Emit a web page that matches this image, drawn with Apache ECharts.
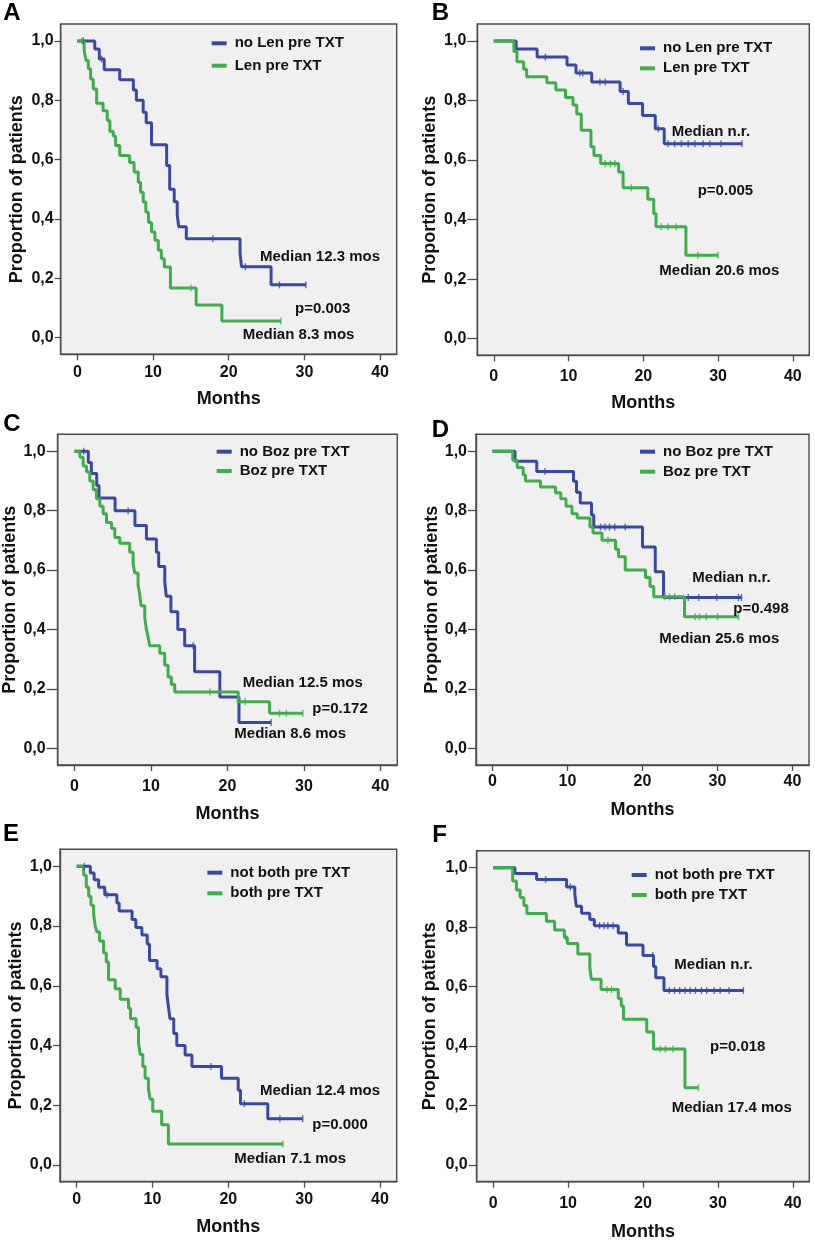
<!DOCTYPE html>
<html>
<head>
<meta charset="utf-8">
<script src="https://cdn.jsdelivr.net/npm/echarts@6/dist/echarts.min.js"></script>
<style>
html,body{margin:0;padding:0;background:#ffffff;}
#chart{width:815px;height:1242px;}
</style>
</head>
<body>
<div id="chart"></div>
<script>
// ---------------- DATA ----------------
const xTicks = [0, 10, 20, 30, 40];
const yTicks = [0, 0.2, 0.4, 0.6, 0.8, 1.0];
const panelLetters = ['A', 'B', 'C', 'D', 'E', 'F'];
const xAxisTitle = 'Months';
const yAxisTitle = 'Proportion of patients';

const groupNames = [
  ['no Len pre TXT', 'Len pre TXT'],
  ['no Len pre TXT', 'Len pre TXT'],
  ['no Boz pre TXT', 'Boz pre TXT'],
  ['no Boz pre TXT', 'Boz pre TXT'],
  ['not both pre TXT', 'both pre TXT'],
  ['not both pre TXT', 'both pre TXT']
];

const annotationTexts = [
  ['Median 12.3 mos', 'p=0.003', 'Median 8.3 mos'],
  ['Median n.r.', 'p=0.005', 'Median 20.6 mos'],
  ['Median 12.5 mos', 'p=0.172', 'Median 8.6 mos'],
  ['Median n.r.', 'p=0.498', 'Median 25.6 mos'],
  ['Median 12.4 mos', 'p=0.000', 'Median 7.1 mos'],
  ['Median n.r.', 'p=0.018', 'Median 17.4 mos']
];

// Panel A
const aBlue = [[0,1],[2.3,0.973],[2.9,0.939],[3.55,0.903],[5.6,0.869],[7.4,0.835],[7.8,0.80],[8.7,0.76],[9.1,0.724],[9.8,0.65],[11.8,0.58],[12.2,0.50],[12.8,0.458],[13.2,0.413],[13.4,0.374],[14.4,0.333],[21.5,0.285],[21.7,0.239],[25.6,0.178],[30.2,0.178]];
const aGreen = [[0,1],[0.9,0.967],[1.15,0.934],[1.45,0.906],[1.75,0.872],[2.1,0.838],[2.55,0.79],[3.4,0.765],[3.95,0.732],[4.3,0.695],[4.75,0.68],[5.05,0.648],[5.6,0.614],[6.9,0.59],[7.5,0.558],[8.05,0.524],[8.35,0.49],[8.7,0.457],[9.05,0.423],[9.4,0.388],[9.8,0.356],[10.25,0.328],[10.7,0.295],[11.1,0.266],[11.5,0.238],[12.3,0.167],[15.7,0.11],[19.1,0.056],[26.9,0.056]];
const aBlueCens = [[0.8,1],[3.2,0.939],[17.9,0.333],[22.2,0.239],[26.7,0.178],[30.2,0.178]];
const aGreenCens = [[0.6,1],[15.0,0.167],[26.9,0.056]];

// Panel B
const bBlue = [[0,1],[3.0,0.973],[5.8,0.946],[9.8,0.919],[11.0,0.892],[13.1,0.862],[16.9,0.83],[18.0,0.79],[19.9,0.75],[21.6,0.705],[22.8,0.655],[33.2,0.655]];
const bGreen = [[0,1],[2.7,0.965],[3.1,0.93],[4.0,0.905],[4.4,0.88],[7.1,0.86],[8.3,0.835],[9.6,0.81],[10.6,0.785],[11.1,0.755],[11.7,0.70],[13.0,0.645],[13.4,0.615],[14.3,0.588],[16.7,0.56],[17.3,0.507],[20.6,0.468],[21.4,0.42],[21.7,0.376],[25.7,0.28],[30.0,0.28]];
const bBlueCens = [[6.9,0.946],[11.5,0.892],[11.9,0.892],[14.2,0.862],[14.9,0.862],[17.3,0.83],[22.0,0.705],[23.3,0.655],[24.2,0.655],[25.1,0.655],[26.0,0.655],[26.9,0.655],[28.0,0.655],[28.9,0.655],[30.4,0.655],[33.2,0.655]];
const bGreenCens = [[14.9,0.588],[15.6,0.588],[16.2,0.588],[18.4,0.507],[22.4,0.376],[23.3,0.376],[24.4,0.376],[27.3,0.28],[30.0,0.28]];

// Panel C
const cBlue = [[0,1],[1.8,0.962],[2.2,0.925],[2.9,0.885],[3.2,0.843],[5.3,0.80],[7.9,0.75],[9.4,0.705],[10.7,0.66],[11.0,0.612],[11.8,0.56],[12.0,0.512],[12.6,0.46],[13.5,0.40],[14.4,0.345],[15.7,0.258],[19.0,0.173],[21.5,0.087],[25.7,0.087]];
const cGreen = [[0,1],[0.7,0.98],[1.13,0.95],[1.57,0.93],[2.0,0.90],[2.44,0.87],[2.87,0.84],[3.31,0.815],[3.74,0.79],[4.18,0.76],[4.83,0.74],[5.27,0.71],[5.92,0.69],[7.22,0.66],[7.66,0.62],[7.88,0.59],[8.31,0.55],[8.5,0.52],[8.7,0.48],[9.18,0.44],[9.4,0.40],[9.62,0.375],[9.83,0.345],[11.14,0.32],[11.79,0.28],[12.23,0.24],[12.66,0.215],[13.1,0.19],[21.4,0.157],[25.5,0.118],[29.85,0.118]];
const cBlueCens = [[1.2,1],[7.0,0.80],[15.5,0.345],[25.7,0.087]];
const cGreenCens = [[17.7,0.19],[22.3,0.157],[26.8,0.118],[27.7,0.118],[29.85,0.118]];

// Panel D
const dBlue = [[0,1],[3.0,0.966],[5.9,0.932],[10.8,0.899],[11.2,0.862],[11.7,0.826],[13.2,0.785],[13.5,0.745],[20.0,0.678],[21.7,0.594],[22.8,0.508],[33.2,0.508]];
const dGreen = [[0,1],[2.7,0.97],[3.3,0.945],[4.1,0.92],[4.4,0.90],[6.4,0.88],[8.4,0.86],[9.1,0.84],[9.8,0.815],[10.6,0.79],[11.3,0.775],[13.0,0.745],[13.4,0.725],[14.6,0.70],[16.4,0.67],[16.8,0.645],[17.7,0.60],[20.4,0.575],[21.0,0.545],[21.5,0.51],[25.6,0.443],[32.8,0.443]];
const dBlueCens = [[7.0,0.932],[14.4,0.745],[15.0,0.745],[15.6,0.745],[16.3,0.745],[17.7,0.745],[26.1,0.508],[27.5,0.508],[29.9,0.508],[32.8,0.508],[33.2,0.508]];
const dGreenCens = [[15.4,0.70],[23.0,0.51],[23.6,0.51],[24.3,0.51],[27.0,0.443],[27.6,0.443],[28.5,0.443],[30.0,0.443],[32.8,0.443]];

// Panel E
const eBlue = [[0,1],[1.8,0.978],[2.3,0.955],[2.9,0.93],[3.7,0.905],[5.3,0.877],[5.6,0.85],[7.3,0.822],[7.8,0.795],[8.6,0.77],[9.3,0.74],[9.6,0.685],[10.6,0.657],[11.1,0.63],[11.9,0.57],[12.1,0.53],[12.3,0.49],[12.8,0.44],[13.2,0.40],[14.3,0.368],[15.2,0.33],[19.1,0.29],[21.3,0.25],[21.6,0.205],[25.2,0.155],[29.8,0.155]];
const eGreen = [[0,1],[0.92,0.97],[1.27,0.93],[1.58,0.90],[1.88,0.87],[2.23,0.84],[2.45,0.80],[2.67,0.78],[3.02,0.75],[3.55,0.71],[3.9,0.68],[4.2,0.62],[5.08,0.59],[5.74,0.555],[6.83,0.525],[7.1,0.49],[7.84,0.46],[8.15,0.41],[8.37,0.37],[8.72,0.33],[9.02,0.29],[9.46,0.255],[9.68,0.22],[10.03,0.18],[11.21,0.135],[12.09,0.07],[27.2,0.07]];
const eBlueCens = [[1.0,1],[4.0,0.905],[17.7,0.33],[22.1,0.205],[26.8,0.155],[29.8,0.155]];
const eGreenCens = [[27.2,0.07]];

// Panel F
const fBlue = [[0,1],[2.9,0.98],[5.8,0.96],[9.8,0.935],[10.9,0.91],[11.1,0.87],[11.8,0.847],[12.9,0.826],[13.5,0.805],[16.7,0.78],[17.8,0.74],[20.0,0.705],[21.4,0.668],[21.7,0.63],[22.8,0.587],[33.4,0.587]];
const fGreen = [[0,1],[2.6,0.955],[3.1,0.925],[3.6,0.9],[4.1,0.873],[4.5,0.846],[7.1,0.82],[8.2,0.79],[9.5,0.765],[9.9,0.745],[11.3,0.71],[12.9,0.665],[13.1,0.625],[14.4,0.59],[16.7,0.56],[17.1,0.535],[17.4,0.49],[20.5,0.447],[21.4,0.39],[25.6,0.26],[27.4,0.26]];
const fBlueCens = [[7.0,0.96],[10.3,0.935],[14.2,0.805],[14.8,0.805],[15.3,0.805],[16.0,0.805],[21.3,0.705],[23.5,0.587],[24.2,0.587],[24.9,0.587],[25.6,0.587],[26.3,0.587],[27.0,0.587],[27.8,0.587],[28.5,0.587],[29.5,0.587],[30.3,0.587],[31.5,0.587],[33.4,0.587]];
const fGreenCens = [[9.7,0.765],[15.2,0.59],[15.8,0.59],[22.3,0.39],[23.0,0.39],[24.0,0.39],[27.4,0.26]];

const blueCurves = [aBlue, bBlue, cBlue, dBlue, eBlue, fBlue];
const greenCurves = [aGreen, bGreen, cGreen, dGreen, eGreen, fGreen];
const blueCensors = [aBlueCens, bBlueCens, cBlueCens, dBlueCens, eBlueCens, fBlueCens];
const greenCensors = [aGreenCens, bGreenCens, cGreenCens, dGreenCens, eGreenCens, fGreenCens];

// ---------------- LAYOUT / STYLE ----------------
const FONT = '"Liberation Sans", Arial, Helvetica, sans-serif';
const BLUE = '#3a48a2';
const GREEN = '#3dae4a';
const FRAME = '#4a4a4a';
const TEXT = '#111111';

const layout = [
  {grid:[60.7,24,336,330.3],    yTick:6,  yGap:35.2, xM:9.8,  xGap:36.2, letter:[12,13.5],    legend:[211.7,35.8,7.4], ann:[[260,257.3],[295,309.3],[242.7,335]]},
  {grid:[477.3,24,332,331.3],   yTick:10, yGap:38.5, xM:13.6, xGap:39,   letter:[440.5,13.4], legend:[640,40.8,5],     ann:[[671.7,132.3],[697.7,190.7],[659.3,270.7]]},
  {grid:[57.7,434.3,339.6,330.7],yTick:11, yGap:39.2, xM:13.9, xGap:40,   letter:[12,424.7],   legend:[216.7,444.2,4.3],ann:[[242.7,682.7],[312.3,709],[234.3,734.3]]},
  {grid:[476,434.3,333,330.7],  yTick:8,  yGap:34.2, xM:9.0,  xGap:36,   letter:[440.5,430.8],legend:[640,444.2,5],    ann:[[692.3,578.3],[733.3,609.3],[659.3,639]]},
  {grid:[60,849.3,336.7,332.4], yTick:7,  yGap:35.2, xM:9.5,  xGap:36,   letter:[11,834],     legend:[207.3,865.2,5.6],ann:[[260,1090.7],[312.3,1125],[234.3,1159.3]]},
  {grid:[476.7,850.7,332.6,331],yTick:8,  yGap:37.9, xM:13.8, xGap:41,   letter:[439.5,835.8],legend:[631.7,867.5,5],  ann:[[674.3,965],[710,1046.7],[671.7,1107.7]]}
];

const X_MIN = -2.2, X_MAX = 42.2, Y_MIN = -0.056, Y_MAX = 1.057;

const grids = [], xAxes = [], yAxes = [], series = [], legends = [], graphics = [];

layout.forEach((L, i) => {
  grids.push({
    left: L.grid[0], top: L.grid[1], width: L.grid[2], height: L.grid[3],
    show: true, backgroundColor: '#f0f0f0', borderColor: FRAME, borderWidth: 1.4,
    containLabel: false
  });
  xAxes.push({
    gridIndex: i, type: 'value', min: X_MIN, max: X_MAX,
    axisLine: {show: true, onZero: false, lineStyle: {color: FRAME, width: 1.4}},
    axisTick: {show: true, customValues: xTicks, length: 6, lineStyle: {color: FRAME, width: 1.3}},
    axisLabel: {customValues: xTicks, margin: L.xM, fontSize: 16, lineHeight: 16, fontWeight: 'bold', fontFamily: FONT, color: TEXT,
      formatter: v => String(Math.round(v))},
    splitLine: {show: false},
    name: xAxisTitle, nameLocation: 'middle', nameGap: L.xGap,
    nameTextStyle: {fontSize: 18, lineHeight: 18, fontWeight: 'bold', fontFamily: FONT, color: TEXT}
  });
  yAxes.push({
    gridIndex: i, type: 'value', min: Y_MIN, max: Y_MAX,
    axisLine: {show: true, onZero: false, lineStyle: {color: FRAME, width: 1.4}},
    axisTick: {show: true, customValues: yTicks, length: L.yTick, lineStyle: {color: FRAME, width: 1.3}},
    axisLabel: {customValues: yTicks, margin: L.yTick + 1, fontSize: 16, fontWeight: 'bold', fontFamily: FONT, color: TEXT,
      formatter: v => v.toFixed(1).replace('.', ',')},
    splitLine: {show: false},
    name: yAxisTitle, nameLocation: 'middle', nameGap: L.yGap - 0.5, nameRotate: 90,
    nameTextStyle: {fontSize: 18, lineHeight: 18, fontWeight: 'bold', fontFamily: FONT, color: TEXT}
  });

  const names = groupNames[i];
  series.push({
    name: names[0], type: 'line', step: 'end', xAxisIndex: i, yAxisIndex: i,
    data: blueCurves[i], showSymbol: false, symbol: 'none', color: BLUE,
    lineStyle: {color: BLUE, width: 3}, z: 3, animation: false
  });
  series.push({
    name: names[1], type: 'line', step: 'end', xAxisIndex: i, yAxisIndex: i,
    data: greenCurves[i], showSymbol: false, symbol: 'none', color: GREEN,
    lineStyle: {color: GREEN, width: 3}, z: 4, animation: false
  });
  series.push({
    name: names[0] + ' censored ' + i, type: 'scatter', xAxisIndex: i, yAxisIndex: i,
    data: blueCensors[i], symbol: 'rect', symbolSize: [1.4, 7],
    itemStyle: {color: BLUE}, z: 5, animation: false, silent: true
  });
  series.push({
    name: names[1] + ' censored ' + i, type: 'scatter', xAxisIndex: i, yAxisIndex: i,
    data: greenCensors[i], symbol: 'rect', symbolSize: [1.4, 7],
    itemStyle: {color: GREEN}, z: 6, animation: false, silent: true
  });

  legends.push({
    data: names, left: L.legend[0], top: L.legend[1], orient: 'vertical',
    icon: 'rect', itemWidth: 15, itemHeight: 4, itemGap: L.legend[2], padding: 0,
    selectedMode: false,
    textStyle: {fontSize: 15, lineHeight: 15, fontWeight: 'bold', fontFamily: FONT, color: TEXT, padding: [0, 0, 0, 3]}
  });

  graphics.push({
    type: 'text', x: L.letter[0], y: L.letter[1], silent: true,
    style: {text: panelLetters[i], fill: '#000', font: 'bold 24px ' + FONT, align: 'center', verticalAlign: 'middle'}
  });
  annotationTexts[i].forEach((t, k) => {
    graphics.push({
      type: 'text', x: L.ann[k][0], y: L.ann[k][1], silent: true, z: 10,
      style: {text: t, fill: TEXT, font: 'bold 15px ' + FONT, align: 'left', verticalAlign: 'middle'}
    });
  });
});

const chart = echarts.init(document.getElementById('chart'), null, {renderer: 'canvas', width: 815, height: 1242});
chart.setOption({
  backgroundColor: '#ffffff',
  animation: false,
  grid: grids,
  xAxis: xAxes,
  yAxis: yAxes,
  legend: legends,
  series: series,
  graphic: graphics
});
</script>
</body>
</html>
